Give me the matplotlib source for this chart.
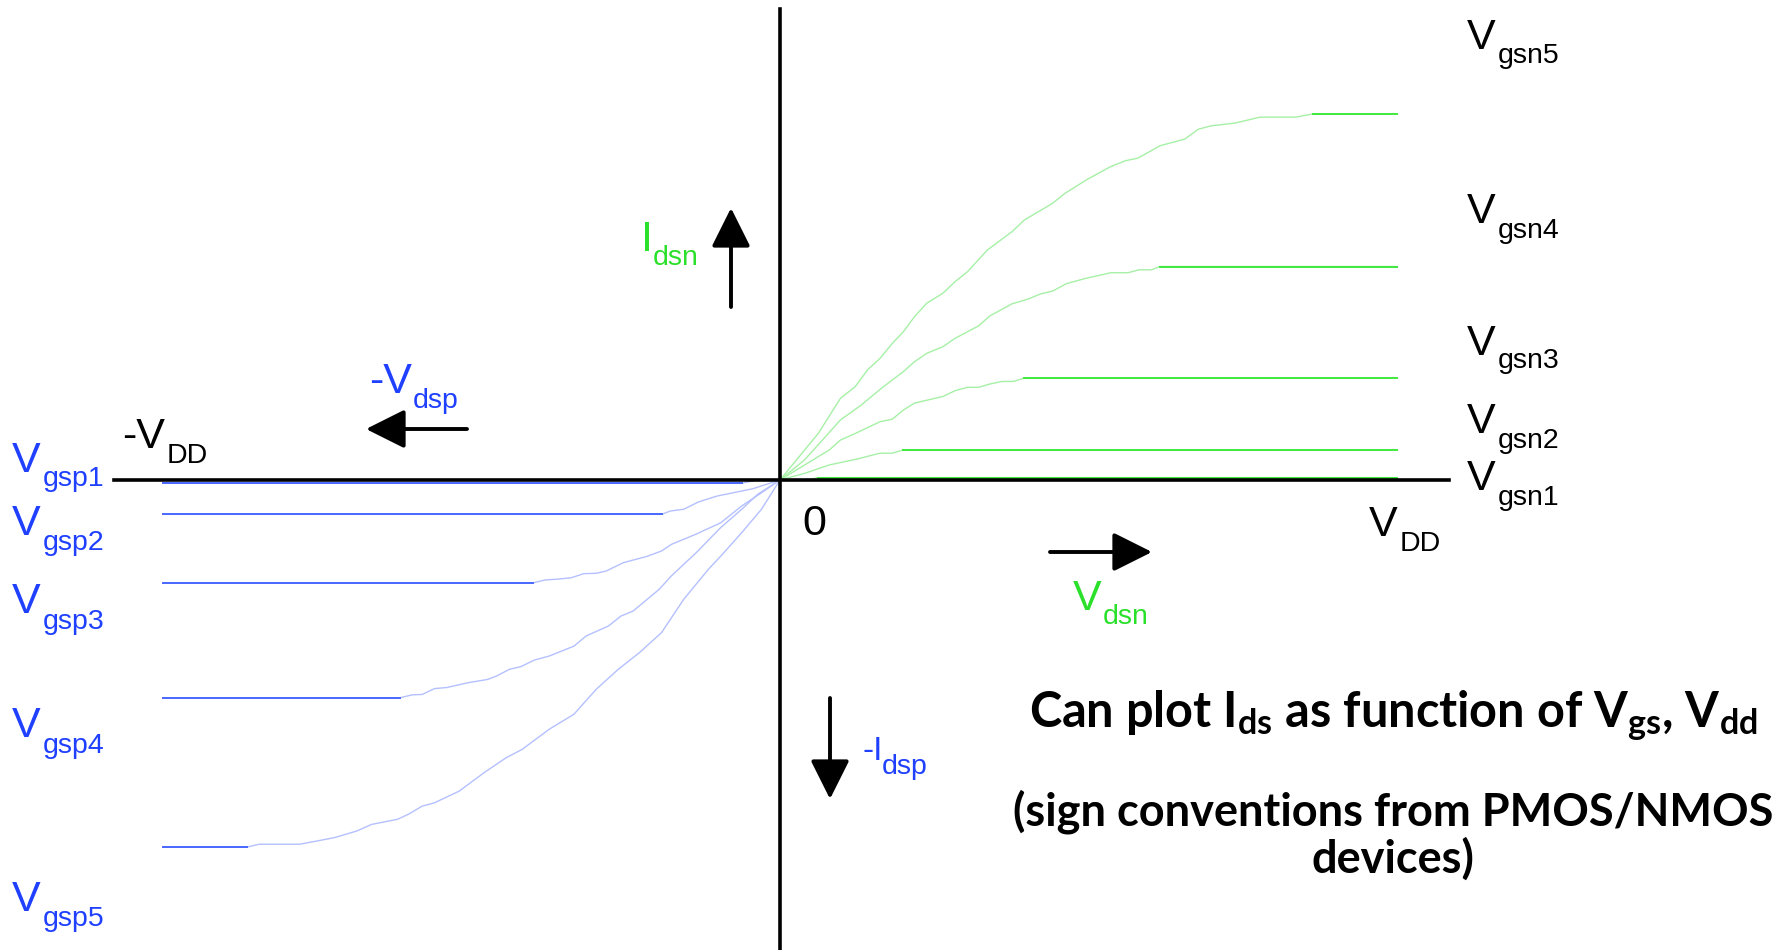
import numpy as np
import matplotlib.pyplot as plt

plt.rcParams['font.family'] = ['Liberation Sans', 'DejaVu Sans']
plt.rcParams['mathtext.fontset'] = 'custom'
plt.rcParams['mathtext.bf'] = 'Lato:bold'
plt.rcParams['mathtext.rm'] = 'Lato:bold'
plt.rcParams['mathtext.it'] = 'Lato:bold:italic'

W, H = 1792, 950
VDD = 5.0

# NMOS curves: Vds (V) vs Ids (arb. units)
vgsn1_v = [0, 0.21, 0.31, 5.0]
vgsn1_i = [0, 0.0, 0.063, 0.063]
vgsn2_v = [0, 0.20, 0.40, 0.61, 0.81, 0.91, 1.00, 5.0]
vgsn2_i = [0, 0.18, 0.41, 0.56, 0.73, 0.73, 0.82, 0.82]
vgsn3_v = [0, 0.20, 0.40, 0.49, 0.61, 0.81, 0.91, 1.00, 1.09, 1.32, 1.42, 1.52,
           1.61, 1.70, 1.80, 1.89, 1.98, 5.0]
vgsn3_i = [0, 0.41, 0.82, 1.09, 1.27, 1.59, 1.66, 1.91, 2.10, 2.28, 2.44, 2.53,
           2.53, 2.62, 2.69, 2.69, 2.78, 2.78]
vgsn4_v = [0, 0.20, 0.49, 0.66, 0.82, 1.00, 1.09, 1.19, 1.32, 1.42, 1.61, 1.70,
           1.88, 2.01, 2.11, 2.21, 2.32, 2.47, 2.68, 2.82, 2.91, 3.01, 3.08, 5.0]
vgsn4_i = [0, 0.55, 1.64, 2.05, 2.50, 2.96, 3.23, 3.46, 3.64, 3.87, 4.21, 4.48,
           4.81, 4.94, 5.08, 5.16, 5.36, 5.50, 5.66, 5.66, 5.74, 5.74, 5.83, 5.83]
vgsn5_v = [0, 0.31, 0.49, 0.61, 0.71, 0.81, 0.91, 1.00, 1.09, 1.19, 1.32, 1.42,
           1.52, 1.68, 1.88, 1.98, 2.21, 2.31, 2.49, 2.68, 2.80, 2.90, 3.08, 3.28,
           3.39, 3.49, 3.69, 3.89, 4.18, 4.32, 5.0]
vgsn5_i = [0, 1.27, 2.23, 2.55, 3.01, 3.32, 3.73, 4.05, 4.46, 4.83, 5.10, 5.42,
           5.69, 6.28, 6.78, 7.10, 7.56, 7.83, 8.21, 8.56, 8.72, 8.79, 9.13, 9.31,
           9.58, 9.67, 9.75, 9.91, 9.91, 10.0, 10.0]

# PMOS curves: -Vds vs -Ids
vgsp1_v = [0, -0.18, -0.31, -5.0]
vgsp1_i = [0, 0.0, -0.09, -0.09]
vgsp2_v = [0, -0.22, -0.51, -0.66, -0.78, -0.89, -0.96, -5.0]
vgsp2_i = [0, -0.24, -0.44, -0.60, -0.80, -0.85, -0.94, -0.94]
vgsp3_v = [0, -0.15, -0.31, -0.48, -0.68, -0.88, -0.96, -1.08, -1.27, -1.41,
           -1.49, -1.59, -1.69, -1.80, -1.90, -2.00, -5.0]
vgsp3_i = [0, -0.35, -0.71, -1.17, -1.48, -1.76, -1.94, -2.09, -2.26, -2.49,
           -2.55, -2.56, -2.67, -2.71, -2.73, -2.81, -2.81]
vgsp4_v = [0, -0.18, -0.31, -0.48, -0.68, -0.88, -0.98, -1.19, -1.29, -1.39,
           -1.57, -1.67, -1.87, -1.99, -2.10, -2.19, -2.30, -2.37, -2.53, -2.70,
           -2.80, -2.90, -2.98, -3.08, -5.0]
vgsp4_i = [0, -0.39, -0.80, -1.30, -1.99, -2.62, -2.99, -3.58, -3.72, -3.99,
           -4.26, -4.54, -4.81, -4.92, -5.10, -5.17, -5.36, -5.45, -5.54, -5.67,
           -5.70, -5.86, -5.87, -5.95, -5.95]
vgsp5_v = [0, -0.15, -0.31, -0.48, -0.58, -0.78, -0.96, -1.14, -1.31, -1.49,
           -1.67, -1.87, -2.09, -2.22, -2.40, -2.60, -2.80, -2.90, -3.01, -3.10,
           -3.31, -3.43, -3.61, -3.89, -4.22, -4.32, -5.0]
vgsp5_i = [0, -0.80, -1.44, -2.08, -2.44, -3.26, -4.17, -4.72, -5.17, -5.72,
           -6.40, -6.81, -7.36, -7.59, -8.00, -8.50, -8.82, -8.91, -9.13, -9.27,
           -9.41, -9.59, -9.77, -9.95, -9.95, -10.03, -10.03]

nmos = [(vgsn1_v, vgsn1_i), (vgsn2_v, vgsn2_i), (vgsn3_v, vgsn3_i),
        (vgsn4_v, vgsn4_i), (vgsn5_v, vgsn5_i)]
pmos = [(vgsp1_v, vgsp1_i), (vgsp2_v, vgsp2_i), (vgsp3_v, vgsp3_i),
        (vgsp4_v, vgsp4_i), (vgsp5_v, vgsp5_i)]

GREEN = '#2be02b'
BLUE = '#1f40ff'

fig = plt.figure(figsize=(W / 100, H / 100), dpi=100)
ax = fig.add_axes([0, 0, 1, 1])
ax.set_xlim(-6.321, 8.201)
ax.set_ylim(-12.84, 13.11)
ax.axis('off')

for v, i in nmos:
    ax.plot(v, i, color='#a6f0a6', lw=1.0)
    ax.plot(v[-2:], i[-2:], color='#40e840', lw=1.4)
for v, i in pmos:
    ax.plot(v, i, color='#b4c0ff', lw=1.0)
    ax.plot(v[-2:], i[-2:], color='#4a68ff', lw=1.4)

# axes
ax.plot([-1.08 * VDD, 1.084 * VDD], [0, 0], color='k', lw=2.6, zorder=5)
ax.plot([0, 0], [-12.81, 12.87], color='k', lw=2.6, zorder=5)


def ftxt(x, y, s, **kw):
    fig.text(x / W, 1 - y / H, s, va='baseline', ha='left', **kw)


def sub_label(main, sub, mxy, sxy, color, size=31, subsize=20.5):
    ftxt(mxy[0], mxy[1], main, color=color, fontsize=size)
    ftxt(sxy[0], sxy[1], sub, color=color, fontsize=subsize)


def arrow(tail, tip):
    ax.annotate('', xy=(tip[0] / W, 1 - tip[1] / H),
                xytext=(tail[0] / W, 1 - tail[1] / H),
                xycoords='figure fraction', textcoords='figure fraction',
                arrowprops=dict(arrowstyle='-|>,head_length=0.4,head_width=0.2',
                                color='k', lw=2.8, mutation_scale=60,
                                shrinkA=0, shrinkB=0))


# NMOS gate labels
for k, (ym, ys) in enumerate([(490, 505), (433, 448), (355, 368), (223, 238), (49, 63)]):
    sub_label('V', 'gsn%d' % (k + 1), (1467, ym), (1498, ys), 'k')
# PMOS gate labels
for k, (ym, ys) in enumerate([(472, 486), (535, 550), (613, 629), (737, 753), (911, 926)]):
    sub_label('V', 'gsp%d' % (k + 1), (12, ym), (43, ys), BLUE)

sub_label('-V', 'DD', (122, 448), (167, 463), 'k')
sub_label('V', 'DD', (1369, 536), (1400, 551), 'k')
ftxt(802, 535, '0', color='k', fontsize=31)

sub_label('I', 'dsn', (641, 251), (653, 265), GREEN)
sub_label('-V', 'dsp', (369, 393), (413, 408), BLUE)
sub_label('V', 'dsn', (1073, 610), (1103, 624), GREEN)
sub_label('-I', 'dsp', (862, 760), (882, 774), BLUE, size=24, subsize=20.5)

arrow((731, 307), (731, 208))
arrow((467, 429), (366, 429))
arrow((1050, 552), (1152, 552))
arrow((830, 698), (830, 799))

note_kw = dict(ha='center', va='baseline', family='Lato',
               fontweight='bold', color='k')
fig.text(1393 / W, 1 - 727 / H,
         r'Can plot $\mathbf{I_{ds}}$ as function of $\mathbf{V_{gs}}$, $\mathbf{V_{dd}}$',
         fontsize=35, **note_kw)
fig.text(1393 / W, 1 - 825 / H, '(sign conventions from PMOS/NMOS',
         fontsize=32.5, **note_kw)
fig.text(1393 / W, 1 - 873 / H, 'devices)', fontsize=32.5, **note_kw)

fig.savefig('out.png', dpi=100)
